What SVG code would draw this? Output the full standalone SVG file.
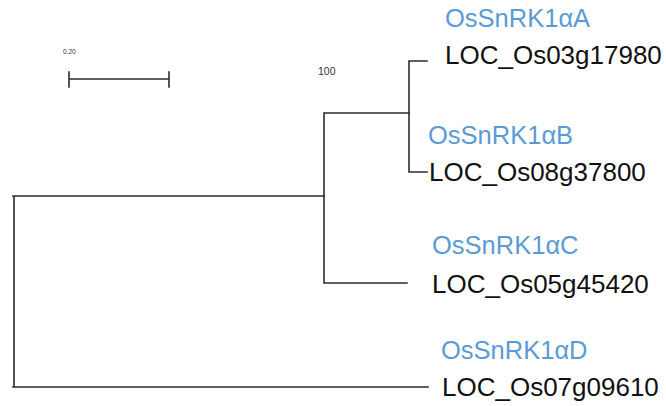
<svg xmlns="http://www.w3.org/2000/svg" width="666" height="406" viewBox="0 0 666 406">
<style>
.br{fill:none;stroke:#2b2b2b;stroke-width:1.6;stroke-linecap:square}
.gene{font-family:"Liberation Sans",Arial,sans-serif;font-size:26px;fill:#111}
.name{font-family:"Liberation Sans",Arial,sans-serif;font-size:25.5px;fill:#5b9bd5}
.small{font-family:"Liberation Sans",Arial,sans-serif;fill:#333}
</style>
<rect width="666" height="406" fill="#fff"/>
<g id="scale-bar">
<path class="br" d="M69 79H169M69 72V87M169 72V87"/>
<text class="small" x="63" y="54" font-size="6.5">0.20</text>
</g>
<g id="connectors">
<path class="br" d="M13 196H324M14 196V387M13 387H428"/>
<path class="br" d="M324 113V283M324 113H409M324 283H407"/>
<path class="br" d="M409 61V172M409 61H427M409 172H427"/>
</g>
<g id="bootstrap">
<text class="small" x="318" y="75" font-size="10.5">100</text>
</g>
<g id="leaf-A">
<text class="name" x="445" y="27">OsSnRK1αA</text>
<text class="gene" x="445" y="64">LOC_Os03g17980</text>
</g>
<g id="leaf-B">
<text class="name" x="428" y="144">OsSnRK1αB</text>
<text class="gene" x="429" y="181">LOC_Os08g37800</text>
</g>
<g id="leaf-C">
<text class="name" x="432" y="254">OsSnRK1αC</text>
<text class="gene" x="432" y="293">LOC_Os05g45420</text>
</g>
<g id="leaf-D">
<text class="name" x="441" y="359">OsSnRK1αD</text>
<text class="gene" x="442" y="396">LOC_Os07g09610</text>
</g>
</svg>
